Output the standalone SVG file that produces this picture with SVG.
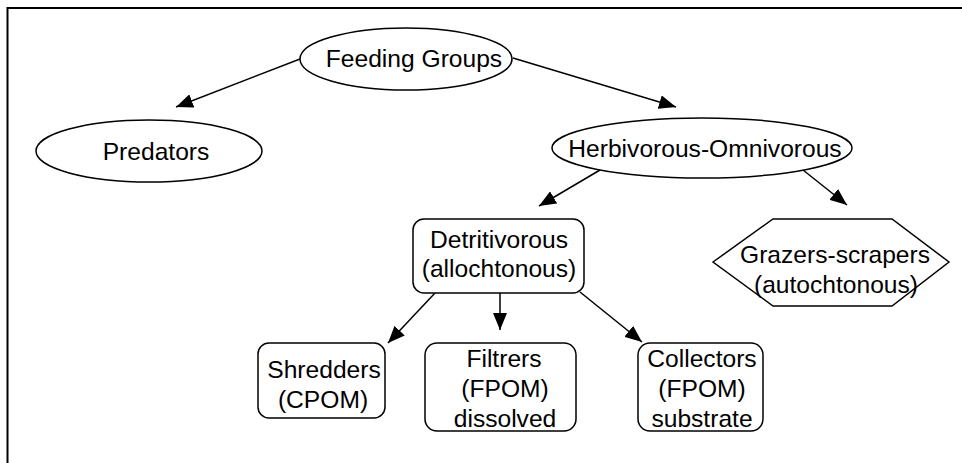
<svg xmlns="http://www.w3.org/2000/svg" width="962" height="463" viewBox="0 0 962 463">
<style>
.shape{fill:#fff;stroke:#000;stroke-width:1.5}
.lbl{font-family:"Liberation Sans",Arial,sans-serif;font-size:24.6px;fill:#000;text-anchor:middle}
.conn line{stroke:#000;stroke-width:1.5}
</style>
<defs>
<marker id="ah" markerUnits="userSpaceOnUse" markerWidth="18" markerHeight="14" refX="17" refY="7" orient="auto">
<path d="M0,0 L17,7 L0,14 z" fill="#000"/>
</marker>
</defs>
<rect x="0" y="0" width="962" height="463" fill="#fff"/>
<path d="M7.5,463 L7.5,8 L962,8" fill="none" stroke="#000" stroke-width="2"/>
<g id="connectors" class="conn">
<line x1="300" y1="59" x2="176" y2="107" marker-end="url(#ah)"/>
<line x1="513" y1="58" x2="676" y2="107" marker-end="url(#ah)"/>
<line x1="600" y1="170" x2="539" y2="206" marker-end="url(#ah)"/>
<line x1="803" y1="170" x2="847" y2="205" marker-end="url(#ah)"/>
<line x1="435" y1="293" x2="388" y2="343" marker-end="url(#ah)"/>
<line x1="500" y1="293" x2="500" y2="330" marker-end="url(#ah)"/>
<line x1="580" y1="292" x2="642" y2="342" marker-end="url(#ah)"/>
</g>
<g id="feeding-groups">
<ellipse class="shape" cx="406" cy="59" rx="106" ry="31"/>
<text class="lbl" x="414" y="67">Feeding Groups</text>
</g>
<g id="predators">
<ellipse class="shape" cx="149" cy="151" rx="113" ry="31"/>
<text class="lbl" x="156" y="160">Predators</text>
</g>
<g id="herbivorous-omnivorous">
<ellipse class="shape" cx="702" cy="148" rx="150" ry="30"/>
<text class="lbl" x="705" y="157">Herbivorous-Omnivorous</text>
</g>
<g id="detritivorous">
<rect class="shape" x="413" y="219" width="171" height="74" rx="11"/>
<text class="lbl" x="499" y="248">Detritivorous</text>
<text class="lbl" x="499" y="277">(allochtonous)</text>
</g>
<g id="grazers-scrapers">
<polygon class="shape" points="713,262 773,219 892,219 949,262 892,306 773,306"/>
<text class="lbl" x="835" y="263">Grazers-scrapers</text>
<text class="lbl" x="836" y="293">(autochtonous)</text>
</g>
<g id="shredders">
<rect class="shape" x="258" y="343" width="127" height="75" rx="11"/>
<text class="lbl" x="324" y="378">Shredders</text>
<text class="lbl" x="323" y="408">(CPOM)</text>
</g>
<g id="filtrers">
<rect class="shape" x="425" y="343" width="151" height="88" rx="12"/>
<text class="lbl" x="504" y="367">Filtrers</text>
<text class="lbl" x="505" y="397">(FPOM)</text>
<text class="lbl" x="505" y="427">dissolved</text>
</g>
<g id="collectors">
<rect class="shape" x="638" y="343" width="125" height="88" rx="12"/>
<text class="lbl" x="702" y="367">Collectors</text>
<text class="lbl" x="702" y="397">(FPOM)</text>
<text class="lbl" x="702" y="427">substrate</text>
</g>
</svg>
